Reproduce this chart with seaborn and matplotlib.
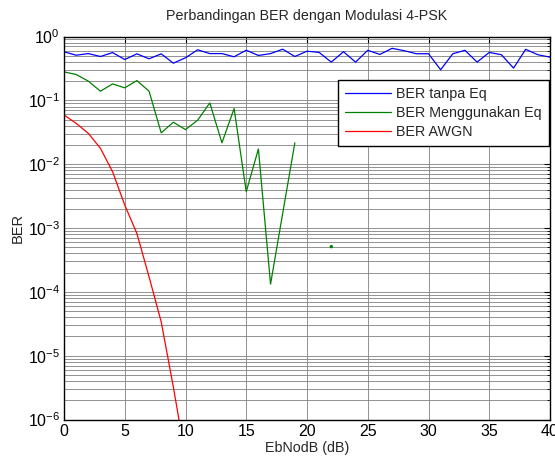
import numpy as np
import pandas as pd
import seaborn as sns
from matplotlib import pyplot as plt
from matplotlib.ticker import LogLocator, NullFormatter, MultipleLocator

# EbNo axis (dB)
ebno = list(range(0, 41))

# BER tanpa Eq (0..40 dB)
ber_tanpa = [0.576, 0.509, 0.540, 0.486, 0.560, 0.436, 0.535, 0.447, 0.535, 0.382,
             0.464, 0.619, 0.540, 0.540, 0.481, 0.610, 0.504, 0.540, 0.632, 0.486,
             0.589, 0.563, 0.397, 0.578, 0.397, 0.608, 0.524, 0.653, 0.599, 0.537,
             0.537, 0.301, 0.537, 0.608, 0.397, 0.563, 0.518, 0.320, 0.630, 0.518,
             0.475]

# BER Menggunakan Eq (0 = no errors, not drawn on log axis)
ber_eq = [0.279, 0.254, 0.200, 0.139, 0.181, 0.157, 0.204, 0.139, 0.031, 0.0454,
          0.0348, 0.0488, 0.0912, 0.0216, 0.0744, 0.0037, 0.0173, 1.32e-4, 1.7e-3, 0.0216,
          0, 0, 5.1e-4, 0, 0, 0, 0, 0, 0, 0,
          0, 0, 0, 0, 0, 0, 0, 0, 0, 0,
          0]

# BER AWGN (0..10 dB)
ebno_awgn = list(range(0, 11))
ber_awgn = [0.0589, 0.0436, 0.0304, 0.0177, 0.0076, 0.00229, 8.2e-4, 1.72e-4,
            3.39e-5, 3.24e-6, 2.5e-7]

sns.set_style("white")
plt.rcParams['font.family'] = ['Liberation Sans', 'DejaVu Sans']
plt.rcParams['mathtext.fontset'] = 'custom'
plt.rcParams['mathtext.rm'] = 'Liberation Sans'

fig = plt.figure(figsize=(5.55, 4.57), dpi=100)
ax = fig.add_axes([64 / 555, 1 - 419.5 / 457, 486 / 555, 383 / 457])

sns.lineplot(x=ebno, y=ber_tanpa, color='#0000ff', lw=0.9, ax=ax, label='BER tanpa Eq')

# split equalizer curve into runs of nonzero values
eq = pd.DataFrame({'x': ebno, 'y': ber_eq})
eq = eq[eq.y > 0].copy()
eq['run'] = (eq.x.diff() != 1).cumsum()
first = True
for r, seg in eq.groupby('run'):
    if len(seg) > 1:
        sns.lineplot(data=seg, x='x', y='y', color='#008000', lw=0.9, ax=ax,
                     label='BER Menggunakan Eq' if first else None)
        first = False
    else:
        sns.scatterplot(data=seg, x='x', y='y', color='#008000', s=6,
                        edgecolor='none', ax=ax)

sns.lineplot(x=ebno_awgn, y=ber_awgn, color='#ff0000', lw=0.9, ax=ax, label='BER AWGN')

ax.set_yscale('log')
ax.set_xlim(0, 40)
ax.set_ylim(1e-6, 1)
ax.xaxis.set_major_locator(MultipleLocator(5))
ax.yaxis.set_major_locator(LogLocator(base=10, numticks=10))
ax.yaxis.set_minor_locator(LogLocator(base=10, subs=np.arange(2, 10), numticks=20))
ax.yaxis.set_minor_formatter(NullFormatter())

ax.grid(True, which='major', color='#808080', lw=0.6)
ax.grid(True, which='minor', axis='y', color='#808080', lw=0.6)
ax.tick_params(which='both', direction='in', top=True, right=True, labelsize=11.5,
               colors='black', pad=3)
ax.tick_params(which='major', length=4, width=0.8)
ax.tick_params(which='minor', length=2, width=0.6)
for s in ax.spines.values():
    s.set_color('black')
    s.set_linewidth(1.0)

ax.set_title('Perbandingan BER dengan Modulasi 4-PSK', fontsize=10.3, pad=12)
ax.set_xlabel('EbNodB (dB)', fontsize=10.3, labelpad=2)
ax.set_ylabel('BER', fontsize=10.5)
ax.yaxis.set_label_coords(-0.080, 0.5)

leg = ax.legend(loc='upper right', bbox_to_anchor=(0.998, 0.886), fontsize=10.3,
                frameon=True, fancybox=False, handlelength=3.2, handletextpad=0.4,
                borderpad=0.5, labelspacing=0.35, borderaxespad=0)
leg.get_frame().set_edgecolor('black')
leg.get_frame().set_linewidth(1.0)
leg.get_frame().set_alpha(1)

fig.savefig('out.png', dpi=100)
